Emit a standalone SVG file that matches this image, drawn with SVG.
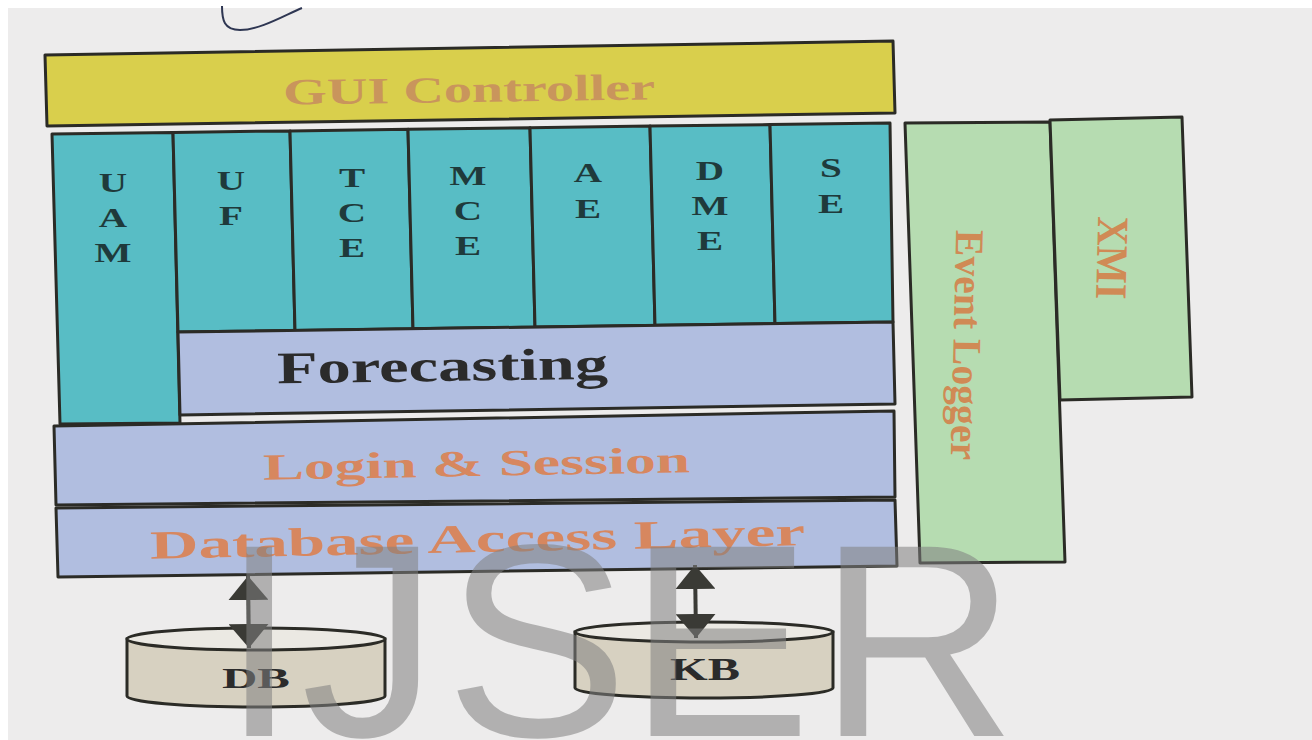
<svg xmlns="http://www.w3.org/2000/svg" width="1312" height="740" viewBox="0 0 1312 740">
<defs>
<style>
.box{stroke:#2b2b26;stroke-width:3;stroke-linejoin:round}
.gui{fill:#d9cf4c}
.mod{fill:#58bdc5}
.lav{fill:#b1bee0}
.grn{fill:#b6dcb1}
.cyl{fill:#d7d1c1;stroke:#2b2b26;stroke-width:3}
.cyltop{fill:#ebe9e3;stroke:#2b2b26;stroke-width:3}
.serif{font-family:"Liberation Serif","Times New Roman",serif;font-weight:bold}
.let{font-size:28px;fill:#1f3a3b;text-anchor:middle}
.org{fill:#d7875f}
.tan{fill:#c9955c}
.brn{fill:#d08a55}
.dark{fill:#2b2b2b}
.conn{stroke:#3a3a35;stroke-width:4;fill:none}
</style>
<marker id="ah" viewBox="0 0 24 40" refX="24" refY="20" markerWidth="24" markerHeight="40" markerUnits="userSpaceOnUse" orient="auto-start-reverse">
<path d="M0,0 L24,20 L0,40 Z" fill="#3a3a35"/>
</marker>
</defs>
<rect x="0" y="0" width="1312" height="740" fill="#ffffff"/>
<rect x="8" y="8" width="1304" height="732" fill="#edecec"/>
<path d="M222,6 C222,20 224,30 240,30 C260,30 285,15 302,8" fill="none" stroke="#2e3652" stroke-width="2"/>

<g id="gui-controller">
<polygon class="box gui" points="45,55 893,41 895,113 47,126"/>
<text class="serif tan" x="283" y="102" font-size="37" textLength="372" lengthAdjust="spacingAndGlyphs" transform="rotate(-0.8 469 90)">GUI Controller</text>
</g>

<g id="uam">
<polygon class="box mod" points="52,134 173,132.4 180,423 60,424"/>
<g transform="translate(113,0) scale(1.4,1)" class="serif let"><text x="0" y="192">U</text><text x="0" y="227">A</text><text x="0" y="262">M</text></g>
</g>
<g id="uf">
<polygon class="box mod" points="173,132.4 290,130.9 295,330.4 178,332"/>
<g transform="translate(231,0) scale(1.4,1)" class="serif let"><text x="0" y="190">U</text><text x="0" y="225">F</text></g>
</g>
<g id="tce">
<polygon class="box mod" points="290,130.9 408,129.3 413,328.7 295,330.4"/>
<g transform="translate(352,0) scale(1.4,1)" class="serif let"><text x="0" y="187">T</text><text x="0" y="222">C</text><text x="0" y="257">E</text></g>
</g>
<g id="mce">
<polygon class="box mod" points="408,129.3 530,127.7 535,327 413,328.7"/>
<g transform="translate(468,0) scale(1.4,1)" class="serif let"><text x="0" y="185">M</text><text x="0" y="220">C</text><text x="0" y="255">E</text></g>
</g>
<g id="ae">
<polygon class="box mod" points="530,127.7 650,126.1 655,325.3 535,327"/>
<g transform="translate(588,0) scale(1.4,1)" class="serif let"><text x="0" y="182">A</text><text x="0" y="218">E</text></g>
</g>
<g id="dme">
<polygon class="box mod" points="650,126.1 770,124.6 775,323.6 655,325.3"/>
<g transform="translate(710,0) scale(1.4,1)" class="serif let"><text x="0" y="180">D</text><text x="0" y="215">M</text><text x="0" y="250">E</text></g>
</g>
<g id="se">
<polygon class="box mod" points="770,124.6 890,123 893,322 775,323.6"/>
<g transform="translate(831,0) scale(1.4,1)" class="serif let"><text x="0" y="177">S</text><text x="0" y="213">E</text></g>
</g>

<g id="forecasting">
<polygon class="box lav" points="178,332 893,322 895,404 180,415"/>
<text class="serif dark" x="277" y="381" font-size="45" textLength="331" lengthAdjust="spacingAndGlyphs" transform="rotate(-0.8 443 368)">Forecasting</text>
</g>

<g id="login-session">
<polygon class="box lav" points="54,426 894,411 895,497 56,505"/>
<text class="serif org" x="263" y="476" font-size="37" textLength="427" lengthAdjust="spacingAndGlyphs" transform="rotate(-1 476 463)">Login &amp; Session</text>
</g>

<g id="database-access-layer">
<polygon class="box lav" points="56,508 895,500 897,566 58,577"/>
<text class="serif org" x="150" y="552" font-size="40" textLength="655" lengthAdjust="spacingAndGlyphs" transform="rotate(-1.2 477 540)">Database Access Layer</text>
</g>

<g id="event-logger">
<polygon class="box grn" points="905,123 1050,122 1065,562 920,563"/>
<g transform="translate(967,345) scale(1.4,1) rotate(91)"><text class="serif brn" x="0" y="9.6" font-size="29" text-anchor="middle" textLength="230" lengthAdjust="spacingAndGlyphs">Event Logger</text></g>
</g>

<g id="xmi">
<polygon class="box grn" points="1050,120 1182,117 1192,397 1060,400"/>
<g transform="translate(1112,258) scale(1.4,1) rotate(91)"><text class="serif brn" x="0" y="10.6" font-size="32" text-anchor="middle" textLength="83" lengthAdjust="spacingAndGlyphs">XMI</text></g>
</g>

<g id="db">
<path class="cyl" d="M127,639 L127,696 A129,11 0 0 0 385,696 L385,639 Z"/>
<ellipse class="cyltop" cx="256" cy="639" rx="129" ry="11"/>
<text class="serif dark" x="222" y="688" font-size="29" textLength="68" lengthAdjust="spacingAndGlyphs">DB</text>
</g>

<g id="kb">
<path class="cyl" d="M575,632 L575,688 A129,10 0 0 0 833,688 L833,632 Z"/>
<ellipse class="cyltop" cx="704" cy="632" rx="129" ry="10"/>
<text class="serif dark" x="670" y="680" font-size="31" textLength="70" lengthAdjust="spacingAndGlyphs">KB</text>
</g>

<g id="connectors">
<line class="conn" x1="248" y1="576" x2="249" y2="648" marker-start="url(#ah)" marker-end="url(#ah)"/>
<line class="conn" x1="695" y1="565" x2="696" y2="638" marker-start="url(#ah)" marker-end="url(#ah)"/>
</g>

<text x="221 301 445 628 818" y="736" font-family="Liberation Sans, Arial, sans-serif" font-size="275" fill="#808080" fill-opacity="0.55">IJSER</text>
</svg>
